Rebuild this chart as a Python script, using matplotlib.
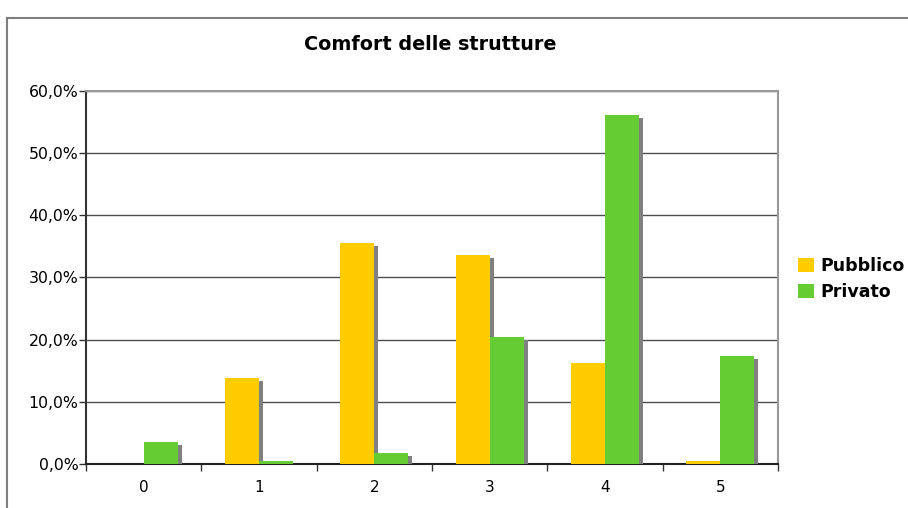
import matplotlib
matplotlib.use("Agg")
import matplotlib.pyplot as plt
import matplotlib.patheffects as pe
from matplotlib.ticker import FuncFormatter, FixedLocator
from matplotlib.patches import Rectangle, Patch
import numpy as np

categories = ["0", "1", "2", "3", "4", "5"]
pubblico = [0.0, 13.9, 35.5, 33.6, 16.3, 0.5]
privato = [3.6, 0.5, 1.8, 20.4, 56.1, 17.4]

yellow = "#FFCC00"
green = "#66CC33"

fig = plt.figure(figsize=(9.08, 5.08), dpi=100)
ax = fig.add_axes([0.0947, 0.086, 0.762, 0.7355])

# chart area border (only top and left edges show)
fig.patches.append(Rectangle((7 / 908, -0.1), 1.2, 1.1 - 18 / 508,
                             transform=fig.transFigure, fill=False,
                             edgecolor="#7f7f7f", linewidth=1.5))

x = np.arange(len(categories))
w = 0.295
shadow = [pe.SimplePatchShadow(offset=(3, -2), shadow_rgbFace="#808080", alpha=1.0),
          pe.Normal()]
b1 = ax.bar(x - w / 2, pubblico, w, color=yellow, zorder=3)
b2 = ax.bar(x + w / 2, privato, w, color=green, zorder=3)
for bars in (b1, b2):
    for p in bars:
        p.set_path_effects(shadow)

ax.set_xlim(-0.5, 5.5)
ax.set_ylim(0, 60)
ax.set_yticks(np.arange(0, 61, 10))
ax.yaxis.set_major_formatter(FuncFormatter(lambda v, _: f"{v:.1f}%".replace(".", ",")))
ax.set_xticks(x)
ax.set_xticklabels(categories)
ax.xaxis.set_minor_locator(FixedLocator(np.arange(-0.5, 6, 1)))
ax.tick_params(axis="x", which="major", length=0, pad=11, labelsize=11)
ax.tick_params(axis="x", which="minor", length=5, width=1, color="#333333")
ax.tick_params(axis="y", length=5, width=1, color="#333333", labelsize=11.3, pad=0.5)

ax.grid(axis="y", color="#4d4d4d", linewidth=1.0, zorder=0)
ax.set_axisbelow(True)
ax.spines["left"].set_color("#333333")
ax.spines["left"].set_linewidth(1.5)
ax.spines["bottom"].set_color("#222222")
ax.spines["bottom"].set_linewidth(1.5)
ax.spines["top"].set_color("#999999")
ax.spines["top"].set_linewidth(1.5)
ax.spines["right"].set_color("#999999")
ax.spines["right"].set_linewidth(1.5)

fig.text(0.474, 0.912, "Comfort delle strutture", ha="center", va="center",
         fontsize=13.8, fontweight="bold")

handles = [Patch(facecolor=yellow), Patch(facecolor=green)]
fig.legend(handles=handles, labels=["Pubblico", "Privato"], loc="center left",
           bbox_to_anchor=(0.879, 0.451), frameon=False, handlelength=0.9,
           handleheight=0.9, handletextpad=0.4, labelspacing=0.45,
           borderaxespad=0, borderpad=0, prop={"weight": "bold", "size": 12.5})

fig.savefig("out.png", dpi=100)
